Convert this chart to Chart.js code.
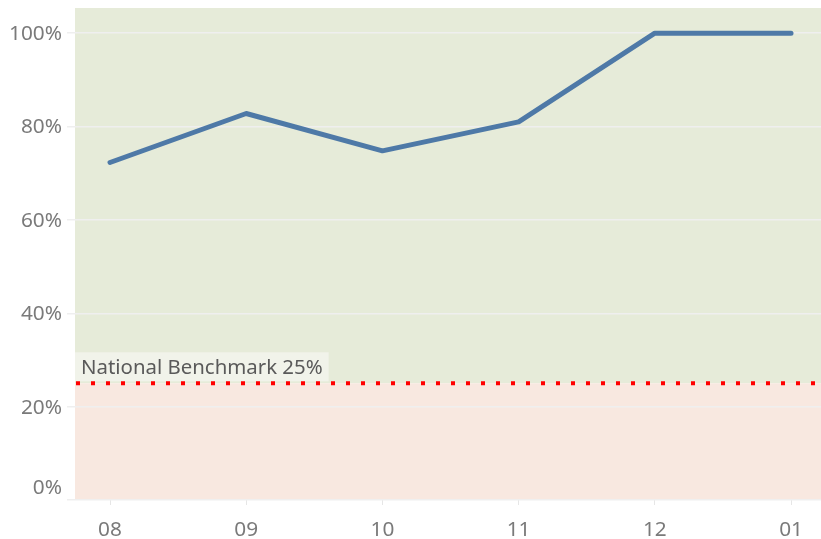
<!DOCTYPE html>
<html>
<head>
<meta charset="utf-8">
<script src="https://cdn.jsdelivr.net/npm/chart.js@4/dist/chart.umd.min.js"></script>
<style>
html,body{margin:0;padding:0;background:#fff;}
#wrap{width:821px;height:539px;position:relative;}
</style>
</head>
<body>
<div id="wrap"><canvas id="c" width="821" height="539"></canvas></div>
<script>
const categories = ["08", "09", "10", "11", "12", "01"];
const values = [72.3, 82.8, 74.8, 81.0, 100, 100];
const yTicks = [0, 20, 40, 60, 80, 100];
const benchmark = 25;
const benchmarkLabel = "National Benchmark 25%";

const FONT = "'Noto Sans', 'Open Sans', sans-serif";

const bgPlugin = {
  id: 'bg',
  beforeDraw(chart) {
    const {ctx, chartArea: a, scales: {y}} = chart;
    const yb = y.getPixelForValue(benchmark);
    ctx.save();
    ctx.fillStyle = '#e6ebd9';
    ctx.fillRect(a.left, a.top, a.right - a.left, yb - a.top);
    ctx.fillStyle = '#f8e8e0';
    ctx.fillRect(a.left, yb, a.right - a.left, a.bottom - yb);
    ctx.restore();
  },
  afterDatasetsDraw(chart) {
    const {ctx, chartArea: a, scales: {y}} = chart;
    const yb = y.getPixelForValue(benchmark);
    ctx.save();
    ctx.font = '20.4px ' + FONT;
    const w = ctx.measureText(benchmarkLabel).width;
    ctx.fillStyle = '#f1f3ea';
    ctx.fillRect(a.left, yb - 31, w + 12, 29);
    ctx.fillStyle = '#5a5a5a';
    ctx.textBaseline = 'alphabetic';
    ctx.textAlign = 'left';
    ctx.fillText(benchmarkLabel, a.left + 6, yb - 9.5);
    ctx.strokeStyle = '#ff0000';
    ctx.lineWidth = 4;
    ctx.setLineDash([4, 11]);
    ctx.beginPath();
    ctx.moveTo(a.left + 1, yb);
    ctx.lineTo(a.right, yb);
    ctx.stroke();
    ctx.restore();
  },
  afterDraw(chart) {
    const {ctx, scales: {y}} = chart;
    ctx.save();
    ctx.font = '20.8px ' + FONT;
    ctx.fillStyle = '#7a7a7a';
    ctx.textAlign = 'right';
    ctx.textBaseline = 'middle';
    yTicks.forEach(v => {
      let py = y.getPixelForValue(v);
      if (v === 0) py -= 13;
      ctx.fillText(v + '%', 62, py + 1);
    });
    ctx.restore();
  }
};

new Chart(document.getElementById('c'), {
  type: 'line',
  data: {
    datasets: [{
      data: values.map((v, i) => ({x: i, y: v})),
      borderColor: '#4e79a7',
      borderWidth: 5,
      borderCapStyle: 'round',
      borderJoinStyle: 'round',
      pointRadius: 0,
      tension: 0,
      fill: false
    }]
  },
  options: {
    responsive: false,
    animation: false,
    devicePixelRatio: 1,
    layout: {padding: {top: 8, right: 0, left: 0, bottom: 0}},
    plugins: {legend: {display: false}, tooltip: {enabled: false}},
    scales: {
      x: {
        type: 'linear',
        min: -0.257,
        max: 5.22,
        afterBuildTicks(s) { s.ticks = categories.map((c, i) => ({value: i})); },
        afterFit(s) { s.height = 39; },
        border: {display: false},
        grid: {drawOnChartArea: false, drawTicks: true, tickLength: 5, color: '#e6e6e6', lineWidth: 1},
        ticks: {
          callback: (v) => categories[v] ?? '',
          font: {family: FONT, size: 20.8},
          color: '#7a7a7a',
          padding: 13,
          maxRotation: 0,
          autoSkip: false
        }
      },
      y: {
        min: 0,
        max: 105.4,
        afterBuildTicks(s) { s.ticks = yTicks.map(v => ({value: v})); },
        afterFit(s) { s.width = 75; },
        border: {display: false},
        grid: {color: '#efefef', lineWidth: 1.5, drawTicks: true, tickLength: 8},
        ticks: {display: false}
      }
    }
  },
  plugins: [bgPlugin]
});
</script>
</body>
</html>
